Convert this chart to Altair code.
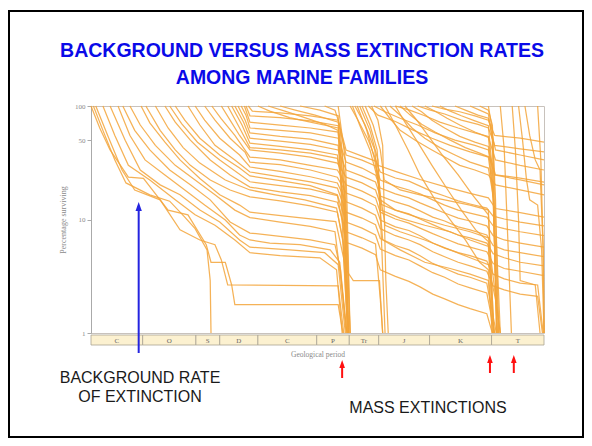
import altair as alt
import pandas as pd

# ---------------- data ----------------
period_bounds = [570, 505, 438, 408, 360, 286, 245, 208, 144, 66, 0]
period_labels = ["C", "O", "S", "D", "C", "P", "Tr", "J", "K", "T"]
y_ticks = [1, 10, 50, 100]

# each curve: (millions of years ago, percentage of the cohort surviving)
paleozoic_cohorts = [
    [(570,100),(559,64),(546,41),(523,23.6),(504,23),(473,12.1),(448,11),(425,6.0),(419,4.2),(401,4.2),(393,2.65),(389,1.78),(259,1.78),(253,1)],
    [(567,100),(555,61),(540,33.5),(526,21),(496,16.5),(471,14.5),(452,10.5),(439,8.3),(424,5.4),(420,2.9),(419,1)],
    [(564,100),(549,55),(531,27.3),(515,18.2),(483,14.9),(458,8.1),(433,6.6),(414,6.0),(406,4.4),(398,2.65),(259,2.6),(252,1)],
    [(555,100),(540,55),(523,30),(496,22.3),(464,14.9),(439,11),(414,8.9),(389,6.6),(370,5.1),(332,4.8),(282,4.6),(261,3.6),(254,1)],
    [(546,100),(527,50),(508,27.3),(483,20.2),(458,16.5),(433,12.1),(408,9.5),(383,6.6),(370,5.7),(320,5.4),(276,5.1),(259,4.0),(250,1)],
    [(536,100),(521,55),(502,33.5),(477,24.7),(452,18.2),(427,13.4),(401,9.9),(383,7.3),(370,6.6),(345,6.2),(307,6.0),(269,5.4),(257,4.2),(249,1)],
    [(530,100),(515,61),(496,41),(471,27.3),(445,20.2),(420,14.9),(395,9.5),(370,7.6),(332,7.1),(294,6.6),(263,6.0),(256,3.6),(248,1)],
    [(521,100),(508,68),(489,45),(464,30),(439,22.3),(414,16.5),(389,12.1),(370,10.4),(332,9.5),(294,8.7),(263,7.8),(254,2.4),(248,1)],
    [(507,100),(496,71),(477,48),(458,33.5),(433,23),(408,16.5),(383,13.4),(370,11.6),(320,10.6),(262,9.6),(249,3.6),(240,2.9),(207,2.9),(203,1)],
    [(501,100),(483,61),(464,41),(445,30),(420,22.3),(395,18.2),(370,15.8),(332,14.6),(294,13.2),(260,11.6),(253,6.6),(247,1)],
    [(489,100),(473,64),(454,43),(433,31.4),(401,22.3),(370,18.2),(338,16.5),(301,14.9),(261,12.6),(251,5.4),(246,1)],
    [(477,100),(464,72),(445,50),(420,33.5),(395,24.7),(370,19.3),(332,17.5),(294,16.2),(260,14.2),(249,7.8),(229,6.9),(212,6.1),(206,2.0),(203,1)],
    [(471,100),(456,70),(436,48),(408,33.5),(370,21.5),(332,19.9),(294,18.5),(260,16.2),(249,6.3),(229,5.6),(212,4.9),(206,3.6),(187,3.15),(170,2.85),(156,2.55),(140,2.2),(125,2.0),(108,1.78),(93,1.64),(72,1.48),(65,1)],
    [(464,100),(452,75),(433,52),(408,37),(383,28.4),(370,24.2),(332,22),(294,19.9),(260,16.5),(249,9.5),(229,8.4),(212,7.3),(206,5.5),(187,4.8),(170,4.4),(156,3.9),(140,3.4),(125,3.1),(108,2.7),(93,2.5),(72,2.25),(62,1)],
    [(448,100),(433,68),(414,45),(389,33.5),(370,26.2),(332,23.8),(294,21.5),(260,18.9),(249,11.6),(229,10.3),(212,9.0),(206,6.8),(187,5.9),(170,5.4),(156,4.8),(140,4.1),(125,3.7),(108,3.3),(93,3.1),(72,2.75),(60,1)],
    [(439,100),(427,75),(408,52),(383,37),(370,29),(332,26.5),(294,23.8),(260,21),(249,14.3),(229,12.6),(212,10.9),(206,8.3),(187,7.2),(170,6.6),(156,6.0),(140,5.2),(125,4.7),(108,4.2),(93,3.9),(72,3.5),(64,2.6),(50,2.4),(30,2.2),(8,2.1),(2,1)],
    [(427,100),(414,75),(395,52),(376,39),(370,32),(332,30.4),(294,27.3),(260,23.6),(249,17.1),(229,15.2),(212,13.2),(206,9.9),(187,8.6),(170,8.0),(156,7.2),(140,6.2),(125,5.6),(108,5.1),(93,4.8),(72,4.3),(64,3.3),(50,3.0),(30,2.75),(8,2.65),(1,1)],
    [(418,100),(406,77),(389,55),(370,35.5),(332,33.5),(294,30),(260,27.3),(249,20.2),(229,17.8),(212,15.5),(206,11.6),(187,10.1),(170,9.3),(156,8.4),(140,7.5),(125,6.8),(108,6.1),(93,5.7),(72,5.2),(64,4.1),(50,3.7),(30,3.5),(0,3.2)],
    [(406,100),(395,75),(383,55),(370,41),(332,38.5),(294,35.5),(260,31.4),(249,23.6),(229,21.0),(212,18.2),(206,13.7),(187,12.1),(170,11.2),(156,10.1),(140,9.0),(125,8.1),(108,7.3),(93,6.9),(72,6.2),(64,5.0),(50,4.6),(30,4.2),(0,3.9)],
    [(398,100),(383,64),(370,43),(332,41),(294,38.5),(260,34.6),(251,18.2),(244,1)],
    [(393,100),(380,68),(370,47),(332,44),(294,41),(260,37),(252,14.9),(246,1)],
    [(389,100),(378,72),(370,52),(332,49),(294,46),(259,41),(249,27.3),(229,24.1),(212,21.4),(206,16.1),(187,14.3),(170,13.2),(156,11.9),(140,10.5),(125,9.7),(108,8.6),(93,8.1),(72,7.3),(64,5.9),(50,5.4),(30,5.1),(0,4.7)],
    [(385,100),(376,75),(370,58),(332,54),(294,51),(259,45),(252,12.1),(246,1)],
    [(381,100),(375,83),(370,64),(332,61),(294,58),(259,52),(249,32.1),(229,28.4),(212,24.6),(206,18.9),(187,16.8),(170,15.5),(156,14.0),(140,12.6),(125,11.4),(108,10.3),(93,9.7),(72,8.8),(64,7.2),(50,6.6),(30,6.2),(0,5.7)],
    [(377,100),(370,72),(332,68),(294,64),(259,59),(252,18.2),(246,1)],
    [(375,100),(370,82),(332,79),(294,74),(259,67),(250,22.3),(244,1)],
    [(372,100),(367,90),(332,87),(294,82),(259,75),(249,40.9),(229,36.2),(212,32.7),(206,26.2),(187,23.2),(170,21.8),(156,19.7),(140,17.5),(125,16.1),(108,14.6),(93,13.7),(72,12.6),(64,10.7),(50,10.1),(30,9.5),(0,8.8)],
]

late_paleozoic_cohorts = [
    [(360,100),(345,90),(320,79),(294,72),(259,64),(250,14.9),(246,1)],
    [(347,100),(326,90),(301,79),(276,69),(259,61),(252,8.1),(247,1)],
    [(332,100),(313,92),(288,83),(259,72),(249,37.0),(229,33.4),(212,29.6),(206,22.3),(187,19.7),(170,18.2),(156,16.8),(140,14.9),(125,13.4),(108,12.1),(93,11.4),(72,10.5),(64,8.8),(50,8.3),(30,7.8),(0,7.2)],
    [(307,100),(282,92),(259,82),(252,4.4),(247,1)],
    [(276,100),(263,92),(257,68),(252,27.3),(247,1)],
    [(259,100),(254,55),(250,33.5),(248,14.9),(244,1)],
]

triassic_cohorts = [
    [(244,100),(234,75),(221,50),(209,30),(187,26.5),(156,22.5),(125,19.5),(93,17),(70,15.5),(61,12.5),(30,11.5),(0,10.5)],
    [(238,100),(225,68),(213,41),(206,14.9),(187,12.1),(156,10.3),(125,8.9),(93,7.8),(70,6.9),(62,2.4),(55,1)],
    [(232,100),(219,61),(209,33.5),(204,5.4),(200,1)],
    [(225,100),(215,68),(206,41),(201,22.3),(181,18.2),(156,16.5),(125,14.9),(93,13.4),(70,12.1),(63,1)],
    [(217,100),(209,75),(203,45),(199,2.9),(196,1)],
    [(241,100),(232,68),(219,41),(209,22.3),(203,6.6),(181,5.4),(150,4.2),(118,3.7),(93,3.3),(70,2.9),(65,1)],
    [(235,100),(223,61),(213,33.5),(206,16.5),(200,8.9),(181,7.8),(150,6.6),(118,5.4),(93,4.6),(70,4.0),(61,1.97),(55,1)],
    [(229,100),(219,68),(210,41),(205,12.1),(181,10.3),(150,8.9),(118,7.8),(93,6.6),(70,5.8),(63,1)],
]

jurassic_cohorts = [
    [(221,100),(209,83),(187,73),(166,62),(141,52),(118,45),(93,39.4),(70,35.5),(64,17.5),(59,1)],
    [(214,100),(200,89),(181,78),(159,68),(137,58),(112,50),(87,45),(70,41),(61,24.7),(30,23.2),(0,21.3)],
    [(206,100),(194,78),(181,61),(162,50),(141,41),(125,35.5),(106,30),(87,27.3),(70,24.7),(61,20.2),(30,18.2),(0,16.5)],
    [(200,100),(187,68),(171,41),(156,24.7),(137,14.9),(118,9.9),(99,6.6),(81,4.2),(70,3.6),(65,1)],
    [(194,100),(181,83),(166,64),(150,52),(131,43),(112,37),(93,32),(70,28.4),(63,14.9),(57,1)],
    [(187,100),(169,92),(150,82),(131,72),(108,64),(87,58),(70,54),(64,18.2),(59,1)],
    [(187,100),(175,72),(159,48),(141,30),(121,18.2),(104,12.1),(86,8.1),(70,6.4),(64,1)],
    [(181,100),(169,84),(154,69),(137,59),(118,50),(99,43),(81,38.5),(69,35.5),(62,24.7),(30,22.3),(0,20.2)],
    [(175,100),(162,78),(146,55),(128,37),(108,24.7),(90,16.5),(70,11),(63,1)],
    [(166,100),(154,89),(141,75),(125,64),(106,54),(87,48),(70,44),(64,14.9),(59,1)],
    [(159,100),(143,92),(125,85),(104,75),(83,69),(70,64),(62,45),(30,42),(0,39.4)],
    [(150,100),(137,90),(122,78),(106,68),(87,59),(70,53),(61,33.5),(30,30),(0,27.3)],
]

cretaceous_cohorts = [
    [(141,100),(125,94),(106,89),(87,82),(70,75),(62,55),(30,52),(0,48)],
    [(131,100),(118,90),(104,82),(87,74),(70,67),(64,22.3),(59,1)],
    [(112,100),(99,92),(83,83),(70,78),(61,41),(30,37),(0,33.5)],
    [(93,100),(81,92),(70,85),(65,50),(60,1)],
    [(81,100),(70,92),(65,68),(61,14.9),(57,1)],
    [(70,100),(65,61),(60,6.6),(55,1)],
]

tertiary_cohorts = [
    [(55,100),(50,41),(45,5.4),(41,1)],
    [(40,100),(36,41),(32,9.9),(30,2.9),(11,2.65),(5,1)],
    [(32,100),(27,50),(22,22.3),(18,14.9),(8,13.4),(3,5.4),(0,1)],
    [(24,100),(18,55),(11,33.5),(5,27.3),(1,5.4),(0,1)],
    [(8,100),(4,33.5),(1,5.4),(0,1)],
]

background_arrow_ma = [510]
mass_arrow_ma = [254, 68, 38]

# ---------------- tables ----------------
rows = []
cid = 0
for group in [paleozoic_cohorts, late_paleozoic_cohorts, triassic_cohorts,
              jurassic_cohorts, cretaceous_cohorts, tertiary_cohorts]:
    for curve in group:
        for i, (t, p) in enumerate(curve):
            rows.append({"cohort": cid, "i": i, "ma": t, "pct": p})
        cid += 1
curves_df = pd.DataFrame(rows)

periods_df = pd.DataFrame({
    "start": period_bounds[:-1],
    "end": period_bounds[1:],
    "label": period_labels,
})
periods_df["mid"] = (periods_df["start"] + periods_df["end"]) / 2

one = pd.DataFrame({"k": [0]})

W, H = 453, 227
xscale = alt.Scale(domain=[0, 570], reverse=True, nice=False, zero=False)
yscale = alt.Scale(type="log", domain=[1, 100], nice=False)
SERIF = "Liberation Serif"
SANS = "Liberation Sans"
GREY = "#8a8a8a"

border = alt.Chart(one).mark_rect(fillOpacity=0, stroke="black", strokeWidth=2).encode(
    x=alt.value(-82), x2=alt.value(492), y=alt.value(-95), y2=alt.value(331)
)

lines = alt.Chart(curves_df).mark_line(color="#f3a539", strokeWidth=1.25, opacity=0.85).encode(
    x=alt.X("ma:Q", scale=xscale, axis=None),
    y=alt.Y("pct:Q", scale=yscale, axis=alt.Axis(
        values=y_ticks, format="d", title="Percentage surviving",
        titleFont=SERIF, titleFontSize=8, titleFontWeight="normal", titleColor=GREY,
        titlePadding=7, labelFont=SERIF, labelFontSize=7, labelColor=GREY,
        labelPadding=2, tickColor="#aaaaaa", tickSize=4, domainColor="#aaaaaa", grid=False)),
    detail="cohort:N",
    order="i:Q",
)

period_rect = alt.Chart(periods_df).mark_rect(fill="#fcf1d0", stroke="#aaa393", strokeWidth=0.8).encode(
    x=alt.X("start:Q", scale=xscale, axis=None), x2="end:Q",
    y=alt.value(229), y2=alt.value(239),
)
period_text = alt.Chart(periods_df).mark_text(font=SERIF, fontSize=7, color="#666666", baseline="middle").encode(
    x=alt.X("mid:Q", scale=xscale, axis=None), y=alt.value(234.5), text="label:N"
)
xtitle = alt.Chart(one).mark_text(font=SERIF, fontSize=7.5, color=GREY, baseline="middle").encode(
    x=alt.value(227), y=alt.value(249), text=alt.value("Geological period")
)

title1 = alt.Chart(one).mark_text(font=SANS, fontSize=19.5, fontWeight="bold", color="#0a0ae8",
                                  baseline="alphabetic").encode(
    x=alt.value(211), y=alt.value(-49), text=alt.value("BACKGROUND VERSUS MASS EXTINCTION RATES"))
title2 = alt.Chart(one).mark_text(font=SANS, fontSize=19.5, fontWeight="bold", color="#0a0ae8",
                                  baseline="alphabetic").encode(
    x=alt.value(211), y=alt.value(-22), text=alt.value("AMONG MARINE FAMILIES"))

bg1 = alt.Chart(one).mark_text(font=SANS, fontSize=16, color="#1a1a1a", baseline="alphabetic").encode(
    x=alt.value(49), y=alt.value(277), text=alt.value("BACKGROUND RATE"))
bg2 = alt.Chart(one).mark_text(font=SANS, fontSize=16, color="#1a1a1a", baseline="alphabetic").encode(
    x=alt.value(49), y=alt.value(296), text=alt.value("OF EXTINCTION"))
mass = alt.Chart(one).mark_text(font=SANS, fontSize=16, color="#1a1a1a", baseline="alphabetic").encode(
    x=alt.value(337), y=alt.value(307), text=alt.value("MASS EXTINCTIONS"))

ARROW = "M0,-1L0.7,1L-0.7,1Z"
bg_df = pd.DataFrame({"ma": background_arrow_ma})
m1_df = pd.DataFrame({"ma": mass_arrow_ma[:1]})
m2_df = pd.DataFrame({"ma": mass_arrow_ma[1:]})

def arrow(df, color, tip, tail, head=81):
    half = head ** 0.5 / 2
    shaft = alt.Chart(df).mark_rule(color=color, strokeWidth=2).encode(
        x=alt.X("ma:Q", scale=xscale, axis=None), y=alt.value(tip + half), y2=alt.value(tail))
    point = alt.Chart(df).mark_point(shape=ARROW, filled=True, color=color, opacity=1,
                                     size=head, strokeWidth=0).encode(
        x=alt.X("ma:Q", scale=xscale, axis=None), y=alt.value(tip + half))
    return [shaft, point]

layers = [border, period_rect, period_text, lines, xtitle, title1, title2, bg1, bg2, mass]
layers += arrow(bg_df, "#2424e0", 96, 247)
layers += arrow(m1_df, "#ff1010", 254, 272, head=64)
layers += arrow(m2_df, "#ff1010", 249, 267, head=64)

chart = alt.layer(*layers).properties(
    width=W, height=H,
    padding={"left": 83, "top": 98, "right": 40, "bottom": 105},
    autosize=alt.AutoSizeParams(type="none"),
    background="white",
).configure_view(stroke="#c8c2bc", strokeWidth=1)

chart.save("out.html", embed_options={"renderer": "svg", "actions": False})
